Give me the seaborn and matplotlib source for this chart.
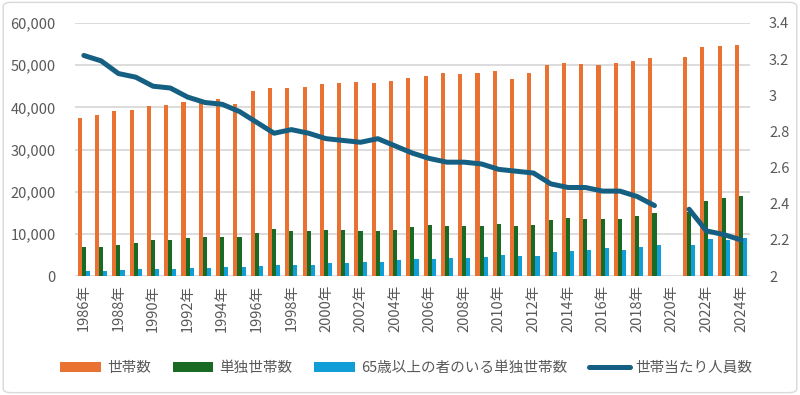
import numpy as np
import pandas as pd
import matplotlib
matplotlib.use("Agg")
import matplotlib.pyplot as plt
import seaborn as sns
from matplotlib.patches import Patch, FancyBboxPatch
from matplotlib.lines import Line2D
from matplotlib.ticker import FuncFormatter, MultipleLocator

# ---- data (thousand households / persons per household) ----
years = [f"{y}年" for y in range(1986, 2025)]
households = [37544, 38064, 39028, 39417, 40273, 40506, 41210, 41826, 42069, 40770,
              43807, 44669, 44496, 44923, 45545, 45664, 46005, 45800, 46323, 47043,
              47531, 48023, 47957, 48013, 48638, 46684, 48170, 50112, 50431, 50361,
              49945, 50425, 50991, 51785, np.nan, 51914, 54310, 54452, 54700]
single = [6826, 6988, 7390, 7866, 8446, 8597, 8974, 9320, 9201, 9213,
          10287, 11156, 10627, 10585, 10988, 11017, 10800, 10673, 10817, 11580,
          12043, 11983, 11928, 11955, 12386, 11787, 12160, 13285, 13662, 13517,
          13434, 13613, 14125, 14907, np.nan, 15292, 17852, 18495, 18995]
elderly_single = [1281, 1300, 1350, 1592, 1613, 1800, 1865, 1914, 2097, 2199,
                  2478, 2533, 2724, 2725, 3079, 3179, 3405, 3411, 3730, 4069,
                  4102, 4326, 4352, 4631, 5018, 4697, 4869, 5730, 5959, 6243,
                  6559, 6274, 6830, 7369, np.nan, 7427, 8730, 8553, 9031]
avg_size = [3.22, 3.19, 3.12, 3.10, 3.05, 3.04, 2.99, 2.96, 2.95, 2.91,
            2.85, 2.79, 2.81, 2.79, 2.76, 2.75, 2.74, 2.76, 2.72, 2.68,
            2.65, 2.63, 2.63, 2.62, 2.59, 2.58, 2.57, 2.51, 2.49, 2.49,
            2.47, 2.47, 2.44, 2.39, np.nan, 2.37, 2.25, 2.23, 2.20]
series_names = ["世帯数", "単独世帯数", "65歳以上の者のいる単独世帯数", "世帯当たり人員数"]
colors = ["#E97132", "#196B24", "#0F9ED5", "#156082"]

sns.set_theme(style="white")
plt.rcParams["font.family"] = ["Noto Sans CJK JP", "DejaVu Sans"]
txt_color = "#595959"
fs = 10.5

fig = plt.figure(figsize=(8, 3.95), dpi=100)
ax = fig.add_axes([0.094, 0.301, 0.843, 0.641])

long = pd.DataFrame({
    "year": years * 3,
    "series": np.repeat(series_names[:3], len(years)),
    "value": households + single + elderly_single,
}).dropna()
sns.barplot(data=long, x="year", y="value", hue="series", order=years,
            hue_order=series_names[:3], palette=colors[:3], width=0.71,
            saturation=1, errorbar=None, legend=False, linewidth=0,
            edgecolor="none", ax=ax)

ax2 = ax.twinx()
line_df = pd.DataFrame({"pos": np.arange(len(years)), "size": avg_size})
line_df["seg"] = line_df["size"].isna().cumsum()
line_df = line_df.dropna()
sns.lineplot(data=line_df, x="pos", y="size", units="seg", estimator=None,
             color=colors[3], lw=3.6, ax=ax2, legend=False)

ax.set_xlim(-0.5, len(years) - 0.5)
ax.set_ylim(0, 60000)
ax.yaxis.set_major_locator(MultipleLocator(10000))
ax.yaxis.set_major_formatter(FuncFormatter(lambda v, p: f"{v:,.0f}"))
ax.set_xticks(range(0, len(years), 2))
ax.set_xticklabels(years[::2], rotation=90)
ax.grid(axis="y", color="#D9D9D9", lw=1.3)
ax.set_axisbelow(True)
ax.set_xlabel("")
ax.set_ylabel("")

ax2.set_ylim(2, 3.4)
ax2.set_yticks(np.arange(2, 3.41, 0.2))
ax2.yaxis.set_major_formatter(FuncFormatter(lambda v, p: f"{v:g}"))
ax2.set_xlabel("")
ax2.set_ylabel("")
ax2.grid(False)

for a in (ax, ax2):
    for s in a.spines.values():
        s.set_visible(False)
    a.tick_params(axis="both", length=0, labelsize=fs, colors=txt_color)
ax.tick_params(axis="y", pad=14)
ax2.tick_params(axis="y", pad=14)
ax.tick_params(axis="x", pad=6)

handles = [Patch(facecolor=c, edgecolor="none") for c in colors[:3]] + \
          [Line2D([0], [0], color=colors[3], lw=3.6, solid_capstyle="round")]
leg = fig.legend(handles, series_names, loc="center", bbox_to_anchor=(0.508, 0.068),
                 ncol=4, frameon=False, fontsize=fs, handlelength=2.8,
                 handleheight=0.75, handletextpad=0.4, columnspacing=1.5)
for t in leg.get_texts():
    t.set_color(txt_color)

border = FancyBboxPatch((0.004, 0.006), 0.992, 0.988, boxstyle="round,pad=0,rounding_size=0.01",
                        transform=fig.transFigure, facecolor="none",
                        edgecolor="#D9D9D9", lw=1.0)
fig.patches.append(border)

fig.savefig("out.png", dpi=100)
